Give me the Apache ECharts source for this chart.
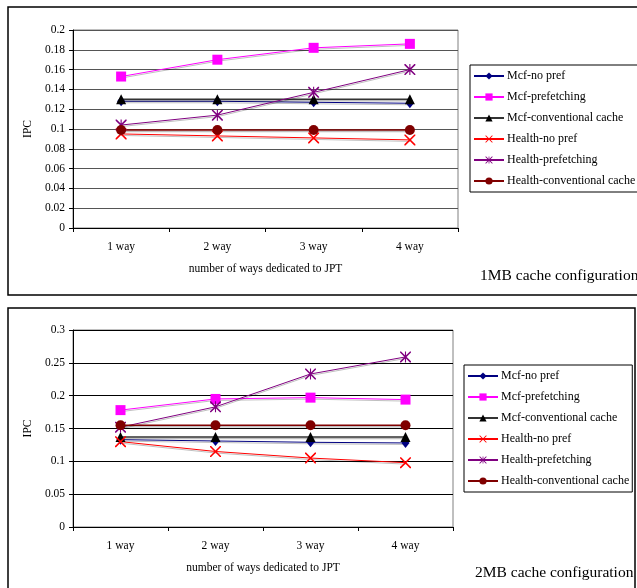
<!DOCTYPE html>
<html>
<head>
<meta charset="utf-8">
<script src="https://cdn.jsdelivr.net/npm/echarts@6/dist/echarts.min.js"></script>
<style>
  html, body { margin: 0; padding: 0; background: #fff; }
  #chart1MB { position: absolute; left: 0; top: 0; width: 637px; height: 300px; }
  #chart2MB { position: absolute; left: 0; top: 300px; width: 637px; height: 288px; }
</style>
</head>
<body>
<div id="chart1MB"></div>
<div id="chart2MB"></div>
<script>
  // 横轴类别
  var categories = ['1 way', '2 way', '3 way', '4 way'];
  var seriesNames = ['Mcf-no pref', 'Mcf-prefetching', 'Mcf-conventional cache',
    'Health-no pref', 'Health-prefetching', 'Health-conventional cache'];

  // 1MB cache configuration
  var mcfNoPref1 = [0.128, 0.128, 0.127, 0.126];
  var mcfPref1 = [0.153, 0.170, 0.182, 0.186];
  var mcfConv1 = [0.130, 0.130, 0.130, 0.130];
  var healthNoPref1 = [0.095, 0.093, 0.091, 0.089];
  var healthPref1 = [0.104, 0.114, 0.137, 0.160];
  var healthConv1 = [0.099, 0.099, 0.099, 0.099];

  // 2MB cache configuration
  var mcfNoPref2 = [0.133, 0.131, 0.129, 0.128];
  var mcfPref2 = [0.178, 0.195, 0.197, 0.194];
  var mcfConv2 = [0.137, 0.137, 0.137, 0.137];
  var healthNoPref2 = [0.130, 0.115, 0.105, 0.098];
  var healthPref2 = [0.152, 0.183, 0.233, 0.259];
  var healthConv2 = [0.155, 0.155, 0.155, 0.155];

  var serif = '"Liberation Serif", "Times New Roman", serif';
  var crossPath = 'path://M0,0 L1,0 L10,9 L10,10 L9,10 L0,1 Z M10,0 L10,1 L1,10 L0,10 L0,9 L9,0 Z';
  var starPath = 'path://M0,0 L1,0 L10,9 L10,10 L9,10 L0,1 Z M10,0 L10,1 L1,10 L0,10 L0,9 L9,0 Z M4.5,0 L5.5,0 L5.5,10 L4.5,10 Z';

  var styles = [
    { color: '#000080', symbol: 'diamond', size: [8, 10], line: '#000080', width: 1 },
    { color: '#ff00ff', symbol: 'rect', size: 10, line: '#ff00ff', width: 1 },
    { color: '#000000', symbol: 'triangle', size: 10, line: '#333333', width: 1.5 },
    { color: '#ff0000', symbol: crossPath, size: 11, line: '#ff0000', width: 1 },
    { color: '#800080', symbol: starPath, size: 11, line: '#800080', width: 1 },
    { color: '#800000', symbol: 'circle', size: 10, line: '#800000', width: 1.5 }
  ];

  function buildOption(cfg) {
    var series = [];
    for (var i = 0; i < cfg.values.length; i++) {
      var s = styles[i];
      series.push({
        name: seriesNames[i],
        type: 'line',
        data: cfg.values[i],
        symbol: s.symbol,
        symbolSize: s.size,
        itemStyle: { color: s.color },
        lineStyle: {
          color: s.line,
          width: s.width,
          shadowColor: 'rgba(0,0,0,0.25)',
          shadowOffsetY: 1.5
        }
      });
    }
    return {
      animation: false,
      title: {
        text: cfg.title,
        left: cfg.titleLeft,
        top: cfg.titleTop,
        textStyle: { fontFamily: serif, fontSize: 15.5, fontWeight: 'normal', color: '#000' }
      },
      graphic: [{
        type: 'rect',
        silent: true,
        z: -10,
        shape: cfg.frame,
        style: { fill: 'none', stroke: '#000', lineWidth: 1.5 }
      }],
      grid: {
        left: 73, top: 30, width: cfg.gridWidth, height: cfg.gridHeight,
        show: true, borderColor: '#808080', borderWidth: 1
      },
      legend: {
        orient: 'vertical',
        left: cfg.legendLeft,
        top: 65,
        itemWidth: 30,
        itemHeight: 9,
        itemGap: 9,
        padding: [5, cfg.legendRight, 5, 3],
        borderColor: '#000',
        borderWidth: 1,
        data: seriesNames,
        textStyle: { fontFamily: serif, fontSize: 12, color: '#000', padding: [0, 0, 0, -2] }
      },
      xAxis: {
        type: 'category',
        data: categories,
        boundaryGap: true,
        name: 'number of ways dedicated to JPT',
        nameLocation: 'middle',
        nameGap: 35,
        nameTextStyle: { fontFamily: serif, fontSize: 11.5, color: '#000' },
        axisLine: { lineStyle: { color: '#000', width: 1 } },
        axisTick: { show: true, length: 4, lineStyle: { color: '#000' } },
        axisLabel: { margin: 13, fontFamily: serif, fontSize: 11.5, color: '#000' }
      },
      yAxis: {
        type: 'value',
        min: 0,
        max: cfg.yMax,
        interval: cfg.interval,
        name: 'IPC',
        nameLocation: 'middle',
        nameRotate: 90,
        nameGap: 37,
        nameTextStyle: { fontFamily: serif, fontSize: 11.5, color: '#000' },
        axisLine: { show: true, lineStyle: { color: '#000', width: 1 } },
        axisTick: { show: true, length: 4, inside: false, lineStyle: { color: '#000' } },
        axisLabel: { margin: 8, fontFamily: serif, fontSize: 11.5, color: '#000' },
        splitLine: { show: true, lineStyle: { color: cfg.gridColor, width: 1 } }
      },
      series: series
    };
  }

  var chart1 = echarts.init(document.getElementById('chart1MB'));
  chart1.setOption(buildOption({
    title: '1MB cache configuration',
    titleLeft: 475,
    titleTop: 263,
    values: [mcfNoPref1, mcfPref1, mcfConv1, healthNoPref1, healthPref1, healthConv1],
    yMax: 0.2,
    interval: 0.02,
    gridWidth: 385,
    gridHeight: 198,
    gridColor: '#555555',
    legendLeft: 470,
    legendRight: 12,
    frame: { x: 8, y: 7, width: 640, height: 288 }
  }));

  var chart2 = echarts.init(document.getElementById('chart2MB'));
  chart2.setOption(buildOption({
    title: '2MB cache configuration',
    titleLeft: 470,
    titleTop: 260,
    values: [mcfNoPref2, mcfPref2, mcfConv2, healthNoPref2, healthPref2, healthConv2],
    yMax: 0.3,
    interval: 0.05,
    gridWidth: 380,
    gridHeight: 197,
    gridColor: '#000000',
    legendLeft: 464,
    legendRight: 3,
    frame: { x: 8, y: 8, width: 627, height: 290 }
  }));
</script>
</body>
</html>
